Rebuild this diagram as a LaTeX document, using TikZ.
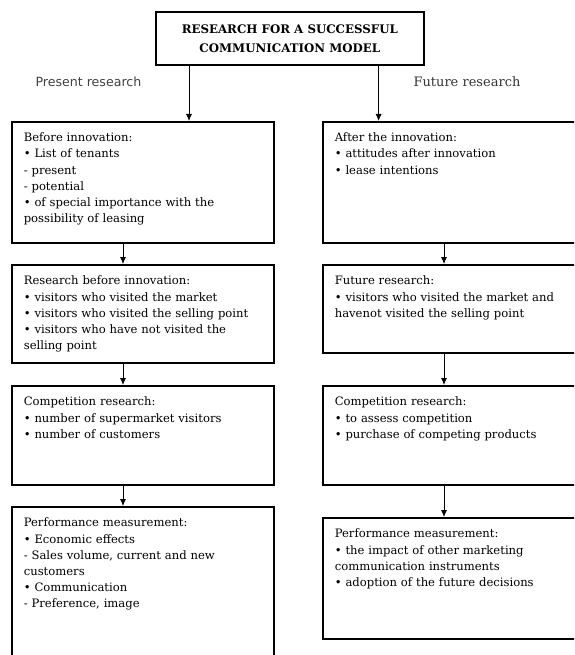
\documentclass[tikz,border=0pt]{standalone}
\usepackage{fontspec}
\setmainfont{DejaVu Serif}
\setsansfont{DejaVu Sans}
\usetikzlibrary{positioning,arrows.meta}
\tikzset{>={Latex[length=7pt,width=6pt]}}
\tikzset{
  box/.style = {draw, line width=1.6pt, anchor=north west, align=left,
    inner xsep=12pt, inner ysep=5pt, text height=15pt,
    font=\fontsize{11.6}{16.2}\selectfont},
  leftbox/.style = {box, text width=238pt},
  rightbox/.style = {box, text width=250pt},
  arr/.style = {->, line width=0.8pt}
}

\begin{document}
\begin{tikzpicture}[x=1pt,y=-1pt]
  \useasboundingbox (0,0) rectangle (574,655);
  \clip (0,0) rectangle (574,655);
  % title
  \node[draw, line width=1.6pt, anchor=north west, minimum width=268pt, minimum height=53pt,
    align=center, font=\bfseries\fontsize{11.8}{19}\selectfont] (title) at (155,11)
    {RESEARCH FOR A SUCCESSFUL\\COMMUNICATION MODEL};
  \node[anchor=west, font=\sffamily\fontsize{12.6}{14}\selectfont, text=black!75] (presentlbl) at (32,82) {Present research};
  \node[anchor=west, font=\fontsize{13}{14}\selectfont, text=black!80] (futurelbl) at (410,82) {Future research};
  % present research
  \node[leftbox, text depth=96pt] (pre1) at (11,121)
    {Before innovation:\\ \textbullet{} List of tenants\\ - present\\ - potential\\
     \textbullet{} of special importance with the\\ possibility of leasing};
  \node[leftbox, text depth=73pt] (pre2) at (11,264)
    {Research before innovation:\\ \textbullet{} visitors who visited the market\\
     \textbullet{} visitors who visited the selling point\\
     \textbullet{} visitors who have not visited the\\ selling point};
  \node[leftbox, text depth=74pt] (pre3) at (11,385)
    {Competition research:\\ \textbullet{} number of supermarket visitors\\
     \textbullet{} number of customers};
  \node[leftbox, text depth=129pt] (pre4) at (11,506)
    {Performance measurement:\\ \textbullet{} Economic effects\\
     - Sales volume, current and new\\ customers\\ \textbullet{} Communication\\
     - Preference, image};
  % future research
  \node[rightbox, text depth=96pt] (fut1) at (322,121)
    {After the innovation:\\ \textbullet{} attitudes after innovation\\ \textbullet{} lease intentions};
  \node[rightbox, text depth=63pt] (fut2) at (322,264)
    {Future research:\\ \textbullet{} visitors who visited the market and\\
     havenot visited the selling point};
  \node[rightbox, text depth=74pt] (fut3) at (322,385)
    {Competition research:\\ \textbullet{} to assess competition\\
     \textbullet{} purchase of competing products};
  \node[rightbox, text depth=96pt] (fut4) at (322,517)
    {Performance measurement:\\ \textbullet{} the impact of other marketing\\
     communication instruments\\ \textbullet{} adoption of the future decisions};
  % arrows
  \draw[arr] ([xshift=34pt]title.south west) -- ([xshift=34pt]title.south west |- pre1.north);
  \draw[arr] ([xshift=-46pt]title.south east) -- ([xshift=-46pt]title.south east |- fut1.north);
  \foreach \a/\b in {pre1/pre2,pre2/pre3,pre3/pre4}
    \draw[arr] ([xshift=112pt]\a.south west) -- ([xshift=112pt]\a.south west |- \b.north);
  \foreach \a/\b in {fut1/fut2,fut2/fut3,fut3/fut4}
    \draw[arr] ([xshift=122pt]\a.south west) -- ([xshift=122pt]\a.south west |- \b.north);
\end{tikzpicture}
\end{document}
